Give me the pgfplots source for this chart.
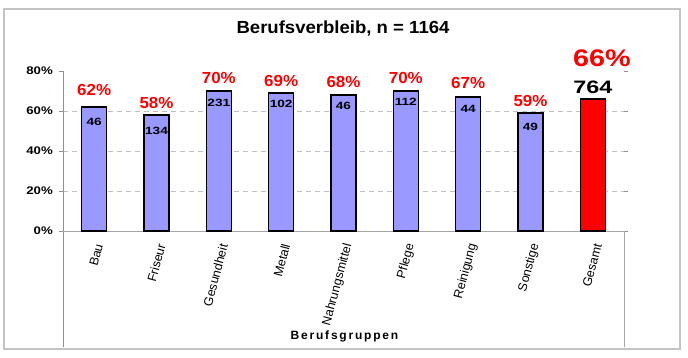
\documentclass[border=0pt]{standalone}
\usepackage{fontspec}
\setmainfont{Liberation Sans}
\newfontfamily\fa[FakeStretch=1.06]{Liberation Sans}
\newfontfamily\fb[FakeStretch=1.2]{Liberation Sans}
\newfontfamily\fc[FakeStretch=1.3]{Liberation Sans}
\usepackage{pgfplots}
\usepackage{pgfplotstable}
\pgfplotsset{compat=1.18}
\definecolor{barblue}{HTML}{9999FF}
\definecolor{framegray}{HTML}{C4C4C4}
\definecolor{gridgray}{HTML}{BFBFBF}
\definecolor{axisgray}{HTML}{909090}

\pgfplotstableread{
x name val n py ny
0 Bau 62 46 70.5 54.5
1 Friseur 58 134 64.2 50
2 Gesundheit 70 231 76.5 64
3 Metall 69 102 75.2 63.5
4 Nahrungsmittel 68 46 74.3 62.5
5 Pflege 70 112 76.7 64.5
6 Reinigung 67 44 73.8 61
7 Sonstige 59 49 65 52
}\groups
\pgfplotstableread{
x val n py ny
8 66 764 86.5 72
}\total

\begin{document}
\begin{tikzpicture}[x=1pt,y=1pt]
\useasboundingbox (0,0) rectangle (688,357);
\draw[framegray, line width=1.2pt] (4,8) rectangle (680,348);
\node[font=\fa\bfseries\fontsize{17.5}{20}\selectfont] at (343,328) {Berufsverbleib, n = 1164};
\node[font=\bfseries\fontsize{12}{14}\selectfont\addfontfeature{LetterSpace=15}] at (344.5,21) {Berufsgruppen};
\begin{axis}[
  at={(63pt,126pt)}, anchor=south west, scale only axis,
  width=561pt, height=160pt,
  xmin=-0.5, xmax=8.5, ymin=0, ymax=80,
  clip=false,
  axis line style={draw=none},
  xtick={0,...,8},
  xticklabels={Bau,Friseur,Gesundheit,Metall,Nahrungsmittel,Pflege,Reinigung,Sonstige,Gesamt},
  x tick style={draw=none},
  xticklabel style={font=\fontsize{12.5}{14}\selectfont, inner sep=0pt, xshift=5pt, yshift=-9pt, rotate=75, anchor=east},
  ytick={0,20,40,60,80},
  yticklabels={0\%,20\%,40\%,60\%,80\%},
  y tick style={draw=axisgray, line width=0.8pt},
  tick align=outside, major tick length=4pt,
  yticklabel style={font=\fb\bfseries\fontsize{11}{13}\selectfont, inner sep=0pt, xshift=-6pt},
  extra y ticks={20,40,60}, extra y tick labels={},
  extra y tick style={grid=major, major tick length=0pt},
  grid style={gridgray, dash pattern=on 5pt off 4pt, line width=0.8pt},
]
\draw[axisgray, line width=0.8pt] (rel axis cs:0,1) -- ([yshift=-116pt]rel axis cs:0,0);
\draw[axisgray!80, line width=0.8pt] (rel axis cs:0,0) -- (rel axis cs:1,0) -- ([yshift=-116pt]rel axis cs:1,0);
\addplot[ybar, bar width=25pt, bar shift=0pt, fill=barblue, draw=black, line width=1.2pt] table[x=x,y=val]{\groups};
\addplot[ybar, bar width=25pt, bar shift=0pt, fill=red, draw=black, line width=1.2pt] table[x=x,y=val]{\total};
\addplot[draw=none, mark=none, point meta=explicit symbolic,
  nodes near coords={\pgfplotspointmeta\%},
  nodes near coords style={anchor=center, inner sep=0pt, text=red, font=\fa\bfseries\fontsize{16}{18}\selectfont}]
  table[x=x,y=py,meta=val]{\groups};
\addplot[draw=none, mark=none, point meta=explicit symbolic,
  nodes near coords={\pgfplotspointmeta},
  nodes near coords style={anchor=center, inner sep=0pt, text=black, font=\fc\bfseries\fontsize{10.5}{12}\selectfont}]
  table[x=x,y=ny,meta=n]{\groups};
\addplot[draw=none, mark=none, point meta=explicit symbolic,
  nodes near coords={\pgfplotspointmeta},
  nodes near coords style={anchor=center, inner sep=0pt, text=black, font=\fc\bfseries\fontsize{18}{20}\selectfont}]
  table[x=x,y=ny,meta=n]{\total};
\addplot[draw=none, mark=none, point meta=explicit symbolic,
  nodes near coords={\pgfplotspointmeta\%},
  nodes near coords style={anchor=center, inner sep=0pt, xshift=9pt, text=red, font=\fb\bfseries\fontsize{24}{26}\selectfont}]
  table[x=x,y=py,meta=val]{\total};
\end{axis}
\end{tikzpicture}
\end{document}
